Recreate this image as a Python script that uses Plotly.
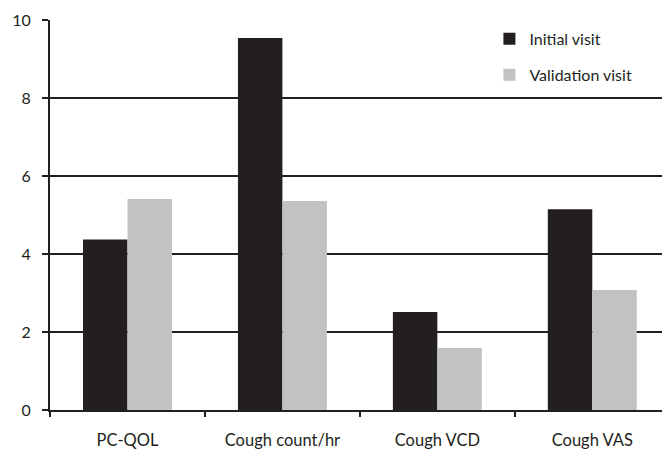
import plotly.graph_objects as go

categories = ["PC-QOL", "Cough count/hr", "Cough VCD", "Cough VAS"]
initial_visit = [4.37, 9.54, 2.51, 5.15]
validation_visit = [5.41, 5.36, 1.59, 3.08]
y_ticks = [0, 2, 4, 6, 8, 10]

DARK = "#231f20"
GRAY = "#c1c2c4"
FONT = "Lato"

fig = go.Figure()
fig.add_trace(go.Bar(x=categories, y=initial_visit, name="Initial visit",
                     marker=dict(color=DARK, line=dict(width=0)), legendgroup="a"))
fig.add_trace(go.Bar(x=categories, y=validation_visit, name="Validation visit",
                     marker=dict(color=GRAY, line=dict(width=0)), legendgroup="b"))

fig.update_layout(
    width=662, height=451,
    margin=dict(l=50, r=0, t=20, b=41),
    paper_bgcolor="white", plot_bgcolor="white",
    barmode="group", bargap=0.426, bargroupgap=0,
    font=dict(family=FONT, color=DARK, size=16),
    legend=dict(x=0.718, y=0.995, xanchor="left", yanchor="top",
                bgcolor="rgba(0,0,0,0)", font=dict(size=16, family=FONT, color=DARK),
                tracegroupgap=12, itemclick=False),
    showlegend=True,
)
fig.update_xaxes(
    type="category", range=[-0.5, 3.45], automargin=False,
    showline=True, linecolor=DARK, linewidth=2,
    ticks="outside", tickson="boundaries", ticklen=5, tickwidth=2, tickcolor=DARK,
    showgrid=False, zeroline=False,
    tickfont=dict(size=16.5, family=FONT, color=DARK),
    ticklabelstandoff=14,
)
fig.update_yaxes(
    range=[0, 10], tickvals=y_ticks, automargin=False,
    showline=True, linecolor=DARK, linewidth=2,
    showgrid=True, gridcolor=DARK, gridwidth=2,
    ticks="outside", ticklen=6, tickwidth=2, tickcolor=DARK,
    zeroline=False,
    tickfont=dict(size=16, family=FONT, color=DARK),
    ticklabelstandoff=8,
)

fig.write_html("out.html", config={"displayModeBar": False},
               post_script="document.body.style.margin='0';document.body.style.overflow='hidden';")
